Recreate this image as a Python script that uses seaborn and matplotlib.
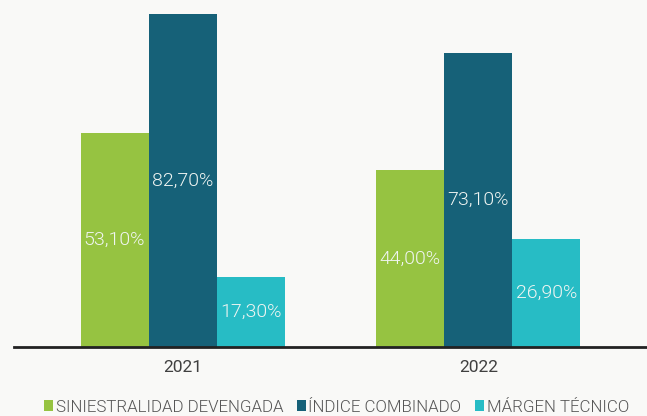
import matplotlib
matplotlib.use("Agg")
import matplotlib.pyplot as plt
import seaborn as sns
import pandas as pd
from matplotlib.patches import Patch

years = ["2021", "2022"]
series = ["SINIESTRALIDAD DEVENGADA", "ÍNDICE COMBINADO", "MÁRGEN TÉCNICO"]
siniestralidad = [53.10, 44.00]
indice_combinado = [82.70, 73.10]
margen_tecnico = [17.30, 26.90]

colors = ["#96c341", "#166178", "#27bcc5"]
bg = "#f9f9f7"

rows = []
for name, vals in zip(series, [siniestralidad, indice_combinado, margen_tecnico]):
    for y, v in zip(years, vals):
        rows.append({"Año": y, "Serie": name, "Valor": v})
df = pd.DataFrame(rows)

sns.set_theme(style="white")
plt.rcParams["font.family"] = ["Roboto", "DejaVu Sans"]

fig = plt.figure(figsize=(6.47, 4.16), dpi=100, facecolor=bg)
ax = fig.add_axes([14 / 647, 69 / 416, 633 / 647, 347 / 416])
ax.set_facecolor(bg)

sns.barplot(data=df, x="Año", y="Valor", hue="Serie", hue_order=series,
            order=years, palette=colors, width=0.69, saturation=1,
            ax=ax, legend=False, edgecolor="none", linewidth=0)

for container in ax.containers:
    for bar in container:
        h = bar.get_height()
        ax.text(bar.get_x() + bar.get_width() / 2, h / 2,
                f"{h:.2f}".replace(".", ",") + "%",
                ha="center", va="center", color="#f0f5f2",
                fontsize=14, fontweight=300)

ax.set_xlim(-0.57, 1.57)
ax.set_ylim(0, 86.2)
ax.set_xlabel("")
ax.set_ylabel("")
ax.set_yticks([])
for s in ["top", "right", "left"]:
    ax.spines[s].set_visible(False)
ax.spines["bottom"].set_color("#222222")
ax.spines["bottom"].set_linewidth(2)
ax.tick_params(axis="x", length=0, pad=9, labelsize=12.5, labelcolor="#404040")

handles = [Patch(facecolor=c, edgecolor="none") for c in colors]
leg = fig.legend(handles, series, loc="center", bbox_to_anchor=(0.52, 9 / 416),
                 ncol=3, frameon=False, handlelength=0.55, handleheight=0.55,
                 handletextpad=0.15, columnspacing=0.8,
                 prop={"size": 12.2, "weight": 300}, labelcolor="#555555")

fig.savefig("out.png", dpi=100, facecolor=bg)
